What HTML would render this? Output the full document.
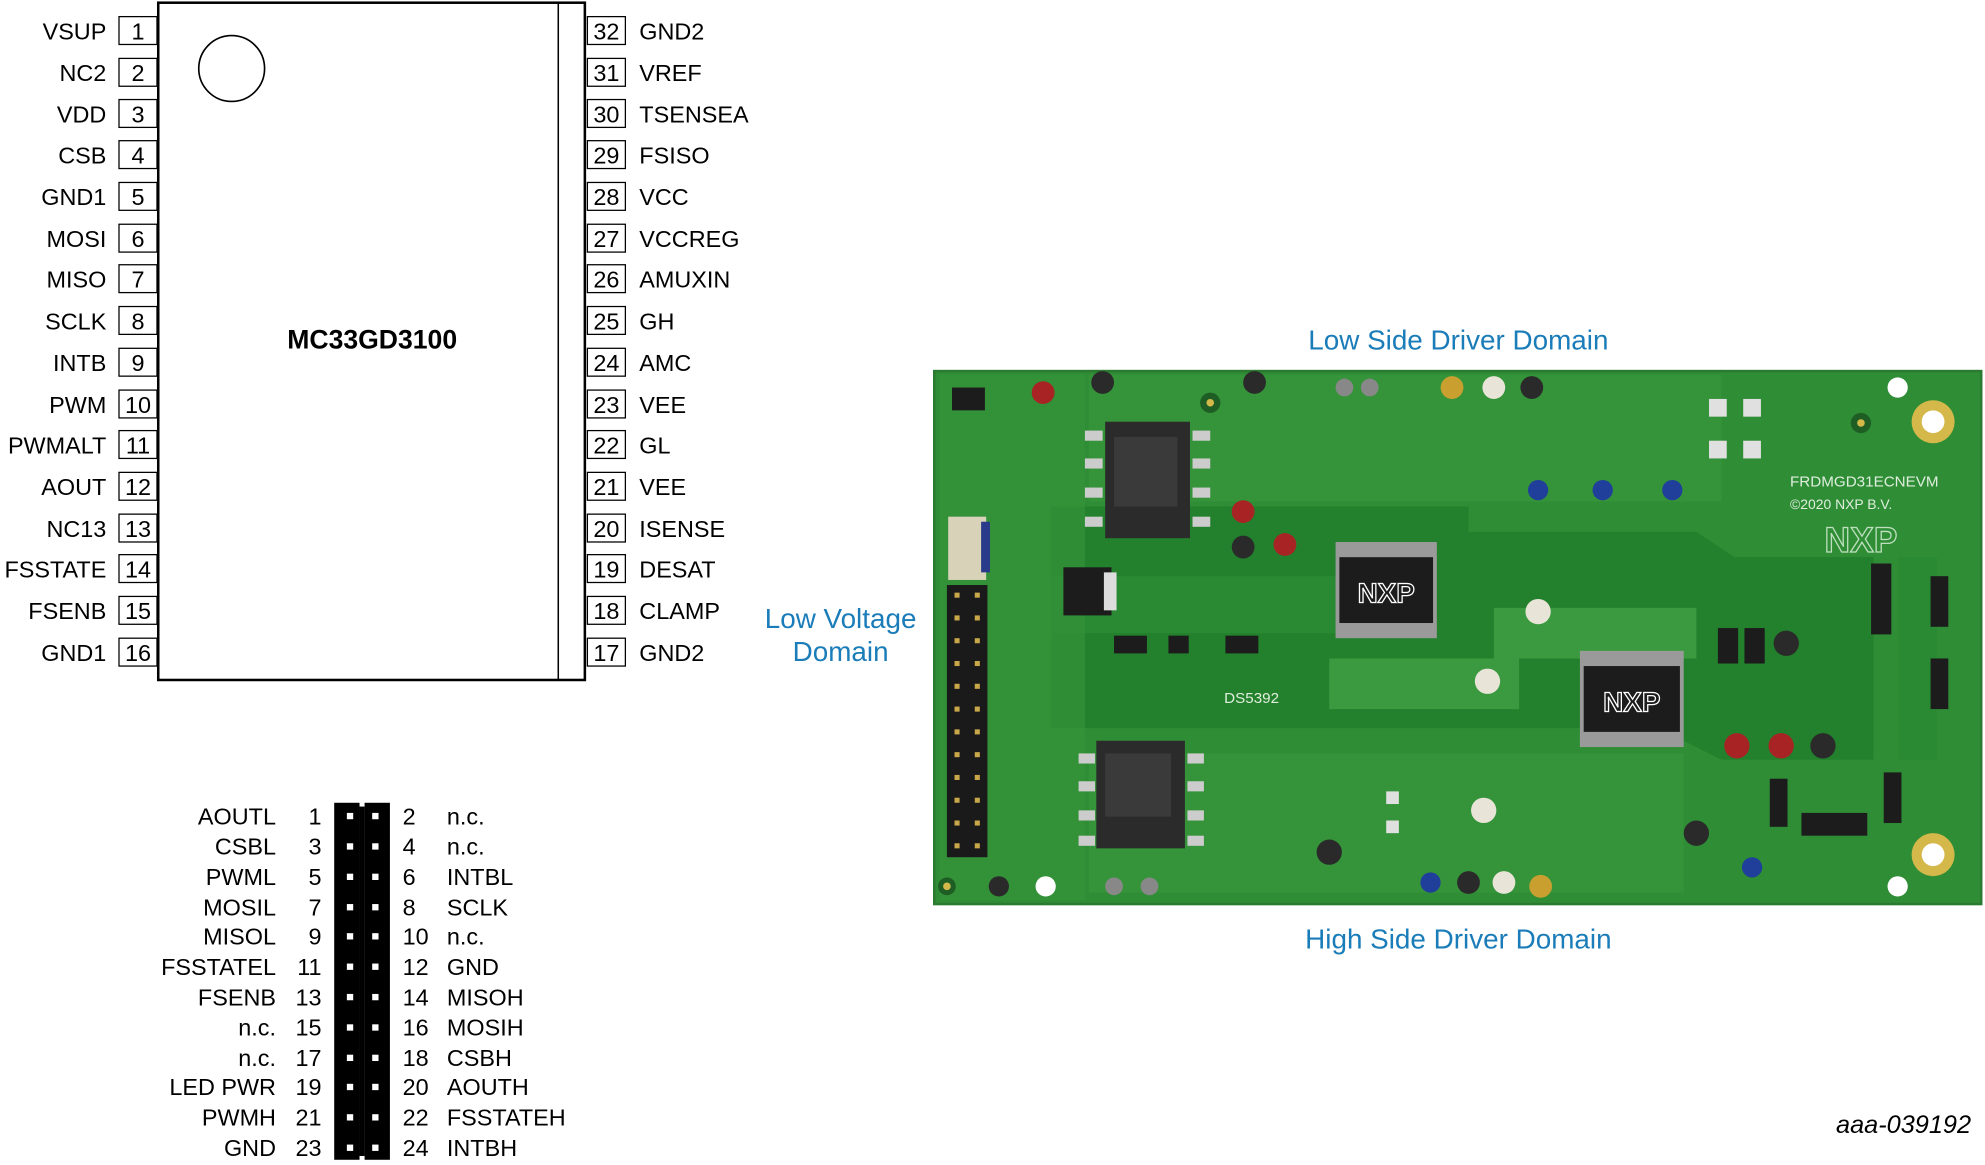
<!DOCTYPE html>
<html><head><meta charset="utf-8">
<style>
html,body{margin:0;padding:0;background:#fff;}
svg{display:block;}
text{font-family:"Liberation Sans",Arial,sans-serif;}
</style></head>
<body>
<svg width="1985" height="1165" viewBox="0 0 1568 920" xmlns="http://www.w3.org/2000/svg">
<rect width="1568" height="920" fill="#fff"/>

<!-- IC body -->
<rect x="125" y="2" width="337" height="535" fill="#fff" stroke="#000" stroke-width="2"/>
<line x1="441" y1="2" x2="441" y2="537" stroke="#000" stroke-width="1.2"/>
<circle cx="183" cy="54" r="26" fill="none" stroke="#000" stroke-width="1.3"/>
<text x="294" y="275" font-size="21" font-weight="bold" text-anchor="middle">MC33GD3100</text>

<g font-size="18.5" fill="#000">
<g stroke="#000" stroke-width="1" fill="#fff">
<rect x="94" y="13" width="30" height="22"/><rect x="94" y="46" width="30" height="22"/>
<rect x="94" y="78.5" width="30" height="22"/><rect x="94" y="111" width="30" height="22"/>
<rect x="94" y="144" width="30" height="22"/><rect x="94" y="177" width="30" height="22"/>
<rect x="94" y="209" width="30" height="22"/><rect x="94" y="242" width="30" height="22"/>
<rect x="94" y="275" width="30" height="22"/><rect x="94" y="308" width="30" height="22"/>
<rect x="94" y="340" width="30" height="22"/><rect x="94" y="373" width="30" height="22"/>
<rect x="94" y="406" width="30" height="22"/><rect x="94" y="438" width="30" height="22"/>
<rect x="94" y="471" width="30" height="22"/><rect x="94" y="504" width="30" height="22"/>
<rect x="464" y="13" width="30" height="22"/><rect x="464" y="46" width="30" height="22"/>
<rect x="464" y="78.5" width="30" height="22"/><rect x="464" y="111" width="30" height="22"/>
<rect x="464" y="144" width="30" height="22"/><rect x="464" y="177" width="30" height="22"/>
<rect x="464" y="209" width="30" height="22"/><rect x="464" y="242" width="30" height="22"/>
<rect x="464" y="275" width="30" height="22"/><rect x="464" y="308" width="30" height="22"/>
<rect x="464" y="340" width="30" height="22"/><rect x="464" y="373" width="30" height="22"/>
<rect x="464" y="406" width="30" height="22"/><rect x="464" y="438" width="30" height="22"/>
<rect x="464" y="471" width="30" height="22"/><rect x="464" y="504" width="30" height="22"/>
</g>
<g text-anchor="end">
<text x="84" y="31">VSUP</text><text x="84" y="64">NC2</text><text x="84" y="96.5">VDD</text>
<text x="84" y="129">CSB</text><text x="84" y="162">GND1</text><text x="84" y="195">MOSI</text>
<text x="84" y="227">MISO</text><text x="84" y="260">SCLK</text><text x="84" y="293">INTB</text>
<text x="84" y="326">PWM</text><text x="84" y="358">PWMALT</text><text x="84" y="391">AOUT</text>
<text x="84" y="424">NC13</text><text x="84" y="456">FSSTATE</text><text x="84" y="489">FSENB</text>
<text x="84" y="522">GND1</text>
</g>
<g text-anchor="middle">
<text x="109" y="31">1</text><text x="109" y="64">2</text><text x="109" y="96.5">3</text>
<text x="109" y="129">4</text><text x="109" y="162">5</text><text x="109" y="195">6</text>
<text x="109" y="227">7</text><text x="109" y="260">8</text><text x="109" y="293">9</text>
<text x="109" y="326">10</text><text x="109" y="358">11</text><text x="109" y="391">12</text>
<text x="109" y="424">13</text><text x="109" y="456">14</text><text x="109" y="489">15</text>
<text x="109" y="522">16</text>
<text x="479" y="31">32</text><text x="479" y="64">31</text><text x="479" y="96.5">30</text>
<text x="479" y="129">29</text><text x="479" y="162">28</text><text x="479" y="195">27</text>
<text x="479" y="227">26</text><text x="479" y="260">25</text><text x="479" y="293">24</text>
<text x="479" y="326">23</text><text x="479" y="358">22</text><text x="479" y="391">21</text>
<text x="479" y="424">20</text><text x="479" y="456">19</text><text x="479" y="489">18</text>
<text x="479" y="522">17</text>
</g>
<g>
<text x="505" y="31">GND2</text><text x="505" y="64">VREF</text><text x="505" y="96.5">TSENSEA</text>
<text x="505" y="129">FSISO</text><text x="505" y="162">VCC</text><text x="505" y="195">VCCREG</text>
<text x="505" y="227">AMUXIN</text><text x="505" y="260">GH</text><text x="505" y="293">AMC</text>
<text x="505" y="326">VEE</text><text x="505" y="358">GL</text><text x="505" y="391">VEE</text>
<text x="505" y="424">ISENSE</text><text x="505" y="456">DESAT</text><text x="505" y="489">CLAMP</text>
<text x="505" y="522">GND2</text>
</g>
</g>

<!-- Header connector -->
<g>
<rect x="264" y="634" width="20" height="282" fill="#000"/>
<rect x="288" y="634" width="20" height="282" fill="#000"/>
<rect x="284" y="637" width="4" height="276" fill="#000"/>
<g fill="#fff">
<rect x="274" y="642" width="5" height="5"/><rect x="294" y="642" width="5" height="5"/>
<rect x="274" y="666" width="5" height="5"/><rect x="294" y="666" width="5" height="5"/>
<rect x="274" y="690" width="5" height="5"/><rect x="294" y="690" width="5" height="5"/>
<rect x="274" y="714" width="5" height="5"/><rect x="294" y="714" width="5" height="5"/>
<rect x="274" y="737" width="5" height="5"/><rect x="294" y="737" width="5" height="5"/>
<rect x="274" y="761" width="5" height="5"/><rect x="294" y="761" width="5" height="5"/>
<rect x="274" y="785" width="5" height="5"/><rect x="294" y="785" width="5" height="5"/>
<rect x="274" y="809" width="5" height="5"/><rect x="294" y="809" width="5" height="5"/>
<rect x="274" y="833" width="5" height="5"/><rect x="294" y="833" width="5" height="5"/>
<rect x="274" y="856" width="5" height="5"/><rect x="294" y="856" width="5" height="5"/>
<rect x="274" y="880" width="5" height="5"/><rect x="294" y="880" width="5" height="5"/>
<rect x="274" y="904" width="5" height="5"/><rect x="294" y="904" width="5" height="5"/>
</g>
</g>
<g font-size="18.5" fill="#000">
<g text-anchor="end">
<text x="218" y="651">AOUTL</text><text x="218" y="675">CSBL</text><text x="218" y="699">PWML</text>
<text x="218" y="723">MOSIL</text><text x="218" y="746">MISOL</text><text x="218" y="770">FSSTATEL</text>
<text x="218" y="794">FSENB</text><text x="218" y="818">n.c.</text><text x="218" y="842">n.c.</text>
<text x="218" y="865">LED PWR</text><text x="218" y="889">PWMH</text><text x="218" y="913">GND</text>
<text x="254" y="651">1</text><text x="254" y="675">3</text><text x="254" y="699">5</text>
<text x="254" y="723">7</text><text x="254" y="746">9</text><text x="254" y="770">11</text>
<text x="254" y="794">13</text><text x="254" y="818">15</text><text x="254" y="842">17</text>
<text x="254" y="865">19</text><text x="254" y="889">21</text><text x="254" y="913">23</text>
</g>
<text x="318" y="651">2</text><text x="318" y="675">4</text><text x="318" y="699">6</text>
<text x="318" y="723">8</text><text x="318" y="746">10</text><text x="318" y="770">12</text>
<text x="318" y="794">14</text><text x="318" y="818">16</text><text x="318" y="842">18</text>
<text x="318" y="865">20</text><text x="318" y="889">22</text><text x="318" y="913">24</text>
<text x="353" y="651">n.c.</text><text x="353" y="675">n.c.</text><text x="353" y="699">INTBL</text>
<text x="353" y="723">SCLK</text><text x="353" y="746">n.c.</text><text x="353" y="770">GND</text>
<text x="353" y="794">MISOH</text><text x="353" y="818">MOSIH</text><text x="353" y="842">CSBH</text>
<text x="353" y="865">AOUTH</text><text x="353" y="889">FSSTATEH</text><text x="353" y="913">INTBH</text>
</g>

<!-- Labels -->
<g font-size="22" fill="#1a7cb8" text-anchor="middle">
<text x="1152" y="276">Low Side Driver Domain</text>
<text x="664" y="496">Low Voltage</text>
<text x="664" y="522">Domain</text>
<text x="1152" y="749">High Side Driver Domain</text>
</g>
<text x="1557" y="895" font-size="20" font-style="italic" text-anchor="end">aaa-039192</text>

<!-- PCB -->
<rect x="738" y="293" width="827" height="421" fill="#2f8d36"/>
<rect x="738" y="293" width="827" height="421" fill="none" stroke="#2a7a30" stroke-width="2"/>
<path d="M830 400 L1160 400 L1160 420 L1340 420 L1370 440 L1480 440 L1480 600 L1360 600 L1330 585 L1250 585 L1250 575 L830 575 Z" fill="#23802c"/>
<path d="M830 455 L1060 455 L1060 500 L830 500 Z" fill="#2a8a33"/>
<path d="M1180 480 L1340 480 L1340 520 L1180 520 Z" fill="#3b9a40"/>
<path d="M1050 520 L1200 520 L1200 560 L1050 560 Z" fill="#3b9a40"/>
<rect x="860" y="296" width="500" height="100" fill="#37963c" opacity="0.7"/>
<rect x="860" y="595" width="470" height="110" fill="#37963c" opacity="0.7"/>
<rect x="742" y="296" width="115" height="415" fill="#349339" opacity="0.7"/>
<rect x="1500" y="440" width="30" height="160" fill="#2a8a33"/>

<rect x="748" y="462" width="32" height="215" fill="#1a1a1a"/>
<g fill="#c9a84a">
<rect x="754" y="468" width="4" height="4"/><rect x="770" y="468" width="4" height="4"/>
<rect x="754" y="486" width="4" height="4"/><rect x="770" y="486" width="4" height="4"/>
<rect x="754" y="504" width="4" height="4"/><rect x="770" y="504" width="4" height="4"/>
<rect x="754" y="522" width="4" height="4"/><rect x="770" y="522" width="4" height="4"/>
<rect x="754" y="540" width="4" height="4"/><rect x="770" y="540" width="4" height="4"/>
<rect x="754" y="558" width="4" height="4"/><rect x="770" y="558" width="4" height="4"/>
<rect x="754" y="576" width="4" height="4"/><rect x="770" y="576" width="4" height="4"/>
<rect x="754" y="594" width="4" height="4"/><rect x="770" y="594" width="4" height="4"/>
<rect x="754" y="612" width="4" height="4"/><rect x="770" y="612" width="4" height="4"/>
<rect x="754" y="630" width="4" height="4"/><rect x="770" y="630" width="4" height="4"/>
<rect x="754" y="648" width="4" height="4"/><rect x="770" y="648" width="4" height="4"/>
<rect x="754" y="666" width="4" height="4"/><rect x="770" y="666" width="4" height="4"/>
</g>
<rect x="749" y="408" width="30" height="50" fill="#d8d2b8"/>
<rect x="775" y="412" width="7" height="40" fill="#2a3a8a"/>

<rect x="873" y="333" width="67" height="92" fill="#2b2b2b"/>
<rect x="880" y="345" width="50" height="55" fill="#3a3a3a"/>
<g fill="#ccc"><rect x="857" y="340" width="14" height="8"/><rect x="857" y="362" width="14" height="8"/><rect x="857" y="385" width="14" height="8"/><rect x="857" y="408" width="14" height="8"/>
<rect x="942" y="340" width="14" height="8"/><rect x="942" y="362" width="14" height="8"/><rect x="942" y="385" width="14" height="8"/><rect x="942" y="408" width="14" height="8"/></g>
<rect x="866" y="585" width="70" height="85" fill="#2b2b2b"/>
<rect x="873" y="595" width="52" height="50" fill="#3a3a3a"/>
<g fill="#ccc"><rect x="852" y="595" width="13" height="8"/><rect x="852" y="617" width="13" height="8"/><rect x="852" y="640" width="13" height="8"/><rect x="852" y="660" width="13" height="8"/>
<rect x="938" y="595" width="13" height="8"/><rect x="938" y="617" width="13" height="8"/><rect x="938" y="640" width="13" height="8"/><rect x="938" y="660" width="13" height="8"/></g>

<g>
<rect x="1055" y="428" width="80" height="76" fill="#9a9a9a"/>
<rect x="1058" y="440" width="74" height="52" fill="#1c1c1c"/>
<text x="1095" y="476" font-size="22" font-weight="bold" fill="#1c1c1c" stroke="#fff" stroke-width="1" text-anchor="middle">NXP</text>
<rect x="1248" y="514" width="82" height="76" fill="#9a9a9a"/>
<rect x="1251" y="526" width="76" height="52" fill="#1c1c1c"/>
<text x="1289" y="562" font-size="22" font-weight="bold" fill="#1c1c1c" stroke="#fff" stroke-width="1" text-anchor="middle">NXP</text>
<text x="1470" y="436" font-size="28" font-weight="bold" fill="none" stroke="#bfe0bf" stroke-width="1" text-anchor="middle">NXP</text>
</g>
<rect x="840" y="448" width="38" height="38" fill="#1c1c1c"/>
<rect x="872" y="452" width="10" height="30" fill="#ddd"/>

<circle cx="1527" cy="333" r="17" fill="#d4b84a"/><circle cx="1527" cy="333" r="9" fill="#fff"/>
<circle cx="1527" cy="675" r="17" fill="#d4b84a"/><circle cx="1527" cy="675" r="9" fill="#fff"/>
<circle cx="1499" cy="306" r="8" fill="#fff"/><circle cx="1499" cy="700" r="8" fill="#fff"/>
<circle cx="826" cy="700" r="8" fill="#fff"/>
<circle cx="1470" cy="334" r="8" fill="#1e5e24"/><circle cx="1470" cy="334" r="3" fill="#d4b84a"/>
<circle cx="956" cy="318" r="8" fill="#1e5e24"/><circle cx="956" cy="318" r="3" fill="#d4b84a"/>
<circle cx="748" cy="700" r="7" fill="#1e5e24"/><circle cx="748" cy="700" r="3" fill="#d4b84a"/>

<g>
<circle cx="824" cy="310" r="9" fill="#a82424"/>
<circle cx="871" cy="302" r="9" fill="#2a2a2a"/>
<circle cx="991" cy="302" r="9" fill="#2a2a2a"/>
<circle cx="1210" cy="306" r="9" fill="#2a2a2a"/>
<circle cx="1180" cy="306" r="9" fill="#e8e4d8"/>
<circle cx="1147" cy="306" r="9" fill="#c9a030"/>
<circle cx="1062" cy="306" r="7" fill="#888"/>
<circle cx="1082" cy="306" r="7" fill="#888"/>
<circle cx="982" cy="404" r="9" fill="#a82424"/>
<circle cx="1015" cy="430" r="9" fill="#a82424"/>
<circle cx="982" cy="432" r="9" fill="#2a2a2a"/>
<circle cx="1215" cy="387" r="8" fill="#1f3f9a"/>
<circle cx="1266" cy="387" r="8" fill="#1f3f9a"/>
<circle cx="1321" cy="387" r="8" fill="#1f3f9a"/>
<circle cx="1215" cy="483" r="10" fill="#e8e4d8"/>
<circle cx="1175" cy="538" r="10" fill="#e8e4d8"/>
<circle cx="1411" cy="508" r="10" fill="#2a2a2a"/>
<circle cx="1372" cy="589" r="10" fill="#a82424"/>
<circle cx="1407" cy="589" r="10" fill="#a82424"/>
<circle cx="1440" cy="589" r="10" fill="#2a2a2a"/>
<circle cx="1340" cy="658" r="10" fill="#2a2a2a"/>
<circle cx="1384" cy="685" r="8" fill="#1f3f9a"/>
<circle cx="1050" cy="673" r="10" fill="#2a2a2a"/>
<circle cx="1130" cy="697" r="8" fill="#1f3f9a"/>
<circle cx="1160" cy="697" r="9" fill="#2a2a2a"/>
<circle cx="1188" cy="697" r="9" fill="#e8e4d8"/>
<circle cx="1217" cy="700" r="9" fill="#c9a030"/>
<circle cx="1172" cy="640" r="10" fill="#e8e4d8"/>
<circle cx="880" cy="700" r="7" fill="#888"/>
<circle cx="908" cy="700" r="7" fill="#888"/>
<circle cx="789" cy="700" r="8" fill="#2a2a2a"/>
</g>
<g fill="#1c1c1c">
<rect x="752" y="306" width="26" height="18"/>
<rect x="880" y="502" width="26" height="14"/><rect x="923" y="502" width="16" height="14"/><rect x="968" y="502" width="26" height="14"/>
<rect x="1357" y="496" width="16" height="28"/><rect x="1378" y="496" width="16" height="28"/>
<rect x="1478" y="445" width="16" height="56"/>
<rect x="1423" y="642" width="52" height="18"/>
<rect x="1525" y="455" width="14" height="40"/><rect x="1525" y="520" width="14" height="40"/>
<rect x="1488" y="610" width="14" height="40"/><rect x="1398" y="615" width="14" height="38"/>
</g>
<g fill="#e0e0e0">
<rect x="1350" y="315" width="14" height="14"/><rect x="1377" y="315" width="14" height="14"/>
<rect x="1350" y="348" width="14" height="14"/><rect x="1377" y="348" width="14" height="14"/>
<rect x="1095" y="625" width="10" height="10"/><rect x="1095" y="648" width="10" height="10"/>
</g>
<g fill="#dfeedd" font-family="Liberation Mono,monospace">
<text x="1414" y="384" font-size="12">FRDMGD31ECNEVM</text>
<text x="1414" y="402" font-size="11">©2020 NXP B.V.</text>
<text x="967" y="555" font-size="12">DS5392</text>
</g>
</svg>
</body></html>
